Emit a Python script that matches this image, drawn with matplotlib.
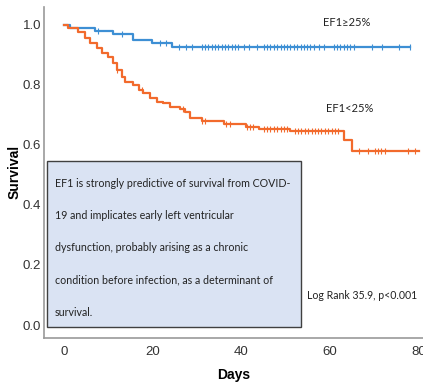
import numpy as np
from matplotlib import pyplot as plt
from matplotlib.patches import Rectangle

# step curves (days, survival)
hi_t = [0, 1.4, 7, 11, 15.6, 19.8, 24.4, 78]
hi_s = [1.0, 0.989, 0.98, 0.97, 0.95, 0.94, 0.927, 0.927]
hi_cens = [7.7, 13, 21.6, 23, 26, 27.5, 28.8, 31, 31.8, 32.5, 33.3, 34, 34.8,
           35.5, 36.3, 37, 37.8, 38.6, 39.3, 40.5, 41.6, 43.5, 45, 45.8, 46.5,
           47.3, 48, 48.8, 49.5, 50.3, 51, 51.8, 52.5, 53.3, 54, 54.8, 55.5,
           56.3, 57.4, 58.5, 60.8, 61.5, 62.3, 63, 63.8, 64.5, 65.3, 69.4, 71.6,
           75.4, 78]

lo_t = [0, 1.0, 3.2, 4.7, 5.9, 7.4, 8.5, 10, 11.1, 11.9, 13, 13.8, 15.6, 16.8,
        17.9, 19.4, 20.9, 22.4, 23.9, 26.2, 27.3, 28.4, 31, 36, 41, 44, 51, 63,
        65, 80]
lo_s = [1.0, 0.989, 0.978, 0.956, 0.939, 0.922, 0.906, 0.894, 0.872, 0.85, 0.828,
        0.811, 0.8, 0.783, 0.772, 0.756, 0.744, 0.739, 0.726, 0.719, 0.711, 0.69,
        0.68, 0.67, 0.661, 0.653, 0.648, 0.617, 0.581, 0.581]
lo_cens = [12, 17.5, 26.8, 31, 31.8, 36.6, 37.4, 41.2, 42, 42.7, 45, 45.8, 46.5,
           47.3, 48, 48.8, 49.5, 50.3, 52, 52.8, 53.5, 54.3, 55, 55.8, 56.5,
           57.3, 58, 58.8, 59.5, 60.3, 61, 61.8, 66.5, 68.6, 70, 70.8, 71.5,
           72.3, 77.6, 79]

blue = "#3d8fd4"
orange = "#f26a2c"
txt_font = ['Lato', 'DejaVu Sans']

plt.rcParams['font.family'] = ['Liberation Sans', 'DejaVu Sans']

fig = plt.figure(figsize=(4.23, 3.84), dpi=100)
ax = fig.add_axes([0.104, 0.12, 0.896, 0.862])


def km(t, s, cens, color):
    ax.step(t, s, where="post", color=color, lw=1.6)
    cs = [s[np.searchsorted(t, c, side="right") - 1] for c in cens]
    ax.plot(cens, cs, ls="none", marker="|", ms=5, mew=0.8, color=color)


km(hi_t, hi_s, hi_cens, blue)
km(lo_t, lo_s, lo_cens, orange)

ax.set_xlim(-4.5, 80.9)
ax.set_ylim(-0.043, 1.06)
ax.set_xticks([0, 20, 40, 60, 80])
ax.set_yticks([0.0, 0.2, 0.4, 0.6, 0.8, 1.0])
ax.set_yticklabels(["0.0", "0.2", "0.4", "0.6", "0.8", "1.0"])
ax.tick_params(length=0, labelsize=9.5, colors="#333333")
ax.tick_params(axis="y", pad=2)
ax.tick_params(axis="x", pad=6)
for side in ["top", "right"]:
    ax.spines[side].set_visible(False)
for side in ["left", "bottom"]:
    ax.spines[side].set_color("#999999")
    ax.spines[side].set_linewidth(1.2)

ax.set_xlabel("Days", fontsize=10, fontweight="bold", labelpad=7)
ax.set_ylabel("Survival", fontsize=10, fontweight="bold")
ax.yaxis.set_label_coords(-0.06, 0.5)

lab = dict(family=txt_font, fontsize=8, color="#222222", va="center")
ax.text(63.8, 1.007, "EF1≥25%", ha="center", **lab)
ax.text(64.3, 0.723, "EF1<25%", ha="center", **lab)
ax.text(54.8, 0.10, "Log Rank 35.9, p<0.001", ha="left", family=txt_font,
        fontsize=7.6, color="#222222", va="center")

# annotation box
box = Rectangle((-3.8, -0.007), 57.2, 0.553, transform=ax.transData,
                facecolor="#dae3f3", edgecolor="#404040", lw=1.0, zorder=3)
ax.add_patch(box)
lines = ["EF1 is strongly predictive of survival from COVID-",
         "19 and implicates early left ventricular",
         "dysfunction, probably arising as a chronic",
         "condition before infection, as a determinant of",
         "survival."]
for i, ln in enumerate(lines):
    ax.text(-2.0, 0.473 - i * 0.1075, ln, family=txt_font, fontsize=7.7,
            color="#222222", va="center", ha="left", zorder=4)

fig.savefig("out.png", dpi=100)
